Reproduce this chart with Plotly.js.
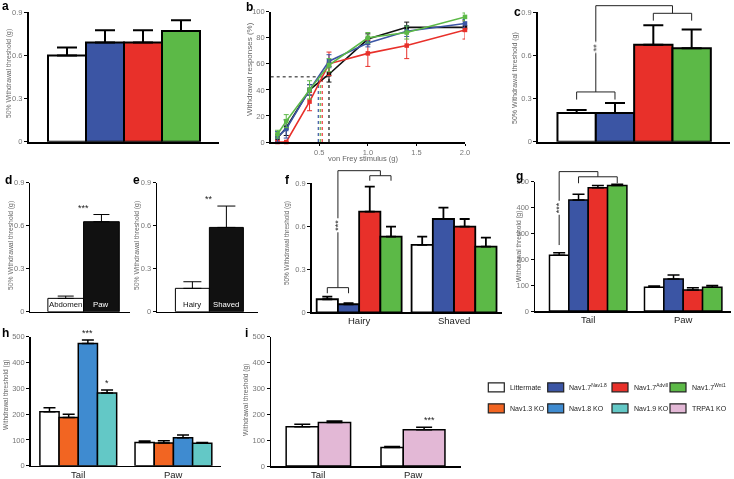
<!DOCTYPE html>
<html><head><meta charset="utf-8">
<script src="https://cdn.plot.ly/plotly-3.0.1.min.js"></script>
<style>html,body{margin:0;padding:0;background:#fff}#chart{width:734px;height:479px}.main-svg{will-change:transform}</style>
</head><body><div id="chart"></div>
<script>
// ---------------- data ----------------
// a
const aVal = [0.60, 0.69, 0.69, 0.77];
const aErr = [0.055, 0.085, 0.085, 0.075];
// b
const bStim = [0.07, 0.16, 0.4, 0.6, 1.0, 1.4, 2.0];
const bLitter = [3, 11, 40, 52, 79, 88, 88];
const bLitterErr = [3, 6, 4, 6, 4, 4, 3];
const bNav18 = [4, 10, 40, 62, 76, 85, 91];
const bNav18Err = [4, 7, 4, 5, 3, 4, 3];
const bAdvill = [0, 0, 31, 60, 68, 74, 86];
const bAdvillErr = [0, 0, 7, 9, 10, 10, 7];
const bWnt1 = [6, 16, 40, 59, 80, 84, 96];
const bWnt1Err = [3, 5, 7, 5, 4, 5, 3];
const bThreshold = [0.60, 0.49, 0.53, 0.51]; // littermate, Nav1.8, Advill, Wnt1
// c
const cVal = [0.20, 0.20, 0.675, 0.65];
const cErr = [0.02, 0.07, 0.135, 0.13];
// d
const dSites = ['Abdomen', 'Paw'];
const dVal = [0.093, 0.628];
const dErr = [0.016, 0.05];
// e
const eSites = ['Hairy', 'Shaved'];
const eVal = [0.163, 0.588];
const eErr = [0.046, 0.149];
// f
const fSites = ['Hairy', 'Shaved'];
const fLitter = [0.091, 0.47], fLitterErr = [0.018, 0.058];
const fNav18 = [0.056, 0.651], fNav18Err = [0.008, 0.079];
const fAdvill = [0.702, 0.598], fAdvillErr = [0.175, 0.053];
const fWnt1 = [0.528, 0.458], fWnt1Err = [0.07, 0.063];
// g
const gSites = ['Tail', 'Paw'];
const gLitter = [216, 91.5], gLitterErr = [9, 5.5];
const gNav18 = [429, 124], gNav18Err = [22, 15];
const gAdvill = [477, 81], gAdvillErr = [8, 9];
const gWnt1 = [485, 91.5], gWnt1Err = [5, 7.5];
// h
const hSites = ['Tail', 'Paw'];
const hLitter = [209, 90], hLitterErr = [16, 6];
const hNav13 = [187, 88], hNav13Err = [12, 9];
const hNav18 = [474, 108], hNav18Err = [13, 11];
const hNav19 = [282, 87], hNav19Err = [11, 3];
// i
const iSites = ['Tail', 'Paw'];
const iLitter = [152, 72], iLitterErr = [9, 3];
const iTrpa1 = [168, 140], iTrpa1Err = [6, 10];

// legend
const legendNames = ['Littermate', 'Nav1.7<sup>Nav1.8</sup>', 'Nav1.7<sup>Advill</sup>', 'Nav1.7<sup>Wnt1</sup>',
                     'Nav1.3 KO', 'Nav1.8 KO', 'Nav1.9 KO', 'TRPA1 KO'];

// ---------------- styles ----------------
const C = {lit:'#ffffff', n18:'#3b55a4', adv:'#e8302a', wnt:'#5cb947', n13:'#f26522', k18:'#3f8bd0', n19:'#63c8c6', trp:'#e3b8d6', blk:'#111111'};
const legendColors = [C.lit, C.n18, C.adv, C.wnt, C.n13, C.k18, C.n19, C.trp];
const F = 'Liberation Sans, Arial, Helvetica, sans-serif';
const W = 734, H = 479;
function dom(x0, x1, yTop, yBot) { return {x:[x0/W, x1/W], y:[(H-yBot)/H, (H-yTop)/H]}; }
const P = {
  a:{id:'',  dom:dom(29, 219, 12.3, 141.7),   xr:[0,5],        yr:[0,0.9]},
  b:{id:'2', dom:dom(270.7, 465, 11.7, 142),  xr:[0,2],        yr:[0,100]},
  c:{id:'3', dom:dom(538.3, 730, 12.3, 141.7),xr:[0,5],        yr:[0,0.9]},
  d:{id:'4', dom:dom(30, 130, 182.7, 311.7),  xr:[0,2.8],      yr:[0,0.9]},
  e:{id:'5', dom:dom(156.7, 258, 182.7, 311.7),xr:[-0.05,2.93],yr:[0,0.9]},
  f:{id:'6', dom:dom(311.7, 501.5, 183.3, 312.3),xr:[-0.5,1.5], yr:[0,0.9]},
  g:{id:'7', dom:dom(535, 730.7, 181.7, 311), xr:[-0.56,1.5],  yr:[0,500]},
  h:{id:'8', dom:dom(30.7, 221, 336.7, 465.7),xr:[-0.5,1.5],   yr:[0,500]},
  i:{id:'9', dom:dom(271, 460.5, 336.7, 466), xr:[-0.5,1.5],   yr:[0,500]}
};
const groupFrac = {f:0.895, g:0.815, h:0.807, i:0.68};

const traces = [];
const shapes = [];
const annotations = [];
const layout = {width:W, height:H, margin:{l:0,r:0,t:0,b:0}, paper_bgcolor:'#fff', plot_bgcolor:'rgba(0,0,0,0)',
  showlegend:false, barmode:'overlay', font:{family:F, color:'#222'}, shapes, annotations};

function axes(p, xo, yo) {
  const base = {showgrid:false, zeroline:false, showline:true, linecolor:'#000', fixedrange:true, ticks:'outside',
    tickcolor:'#000', ticklen:3, tickwidth:1, tickfont:{size:7.5, color:'#777', family:F}, type:'linear'};
  layout['xaxis'+p.id] = Object.assign({}, base, {domain:p.dom.x, range:p.xr, anchor:'y'+p.id}, xo);
  layout['yaxis'+p.id] = Object.assign({}, base, {domain:p.dom.y, range:p.yr, anchor:'x'+p.id}, yo);
}
function errUp(arr, vals, lw, cw) {
  return {type:'data', symmetric:false, array:arr, arrayminus:vals.map(()=>0), color:'#000', thickness:lw, width:cw};
}
function simpleBars(p, vals, errs, colors, lw, cw) {
  traces.push({type:'bar', x:vals.map((_,i)=>i+1), y:vals, width:1, marker:{color:colors, line:{color:'#000', width:lw}},
    error_y:errUp(errs, vals, lw, cw), xaxis:'x'+p.id, yaxis:'y'+p.id, hoverinfo:'skip'});
}
// geom (optional): per-series {width:[..], offset:[..]} overrides of the standard group layout
function groupedBars(p, key, cats, series, errs, colors, lw, cw, geom) {
  const G = groupFrac[key], w = G/series.length;
  series.forEach((vals, k) => {
    const g = geom && geom[k];
    traces.push({type:'bar', x:cats.map((_,i)=>i), y:vals, width:g ? g.width : w, offset:g ? g.offset : -G/2 + k*w,
      marker:{color:colors[k], line:{color:'#000', width:lw}}, error_y:errUp(errs[k], vals, lw, cw),
      xaxis:'x'+p.id, yaxis:'y'+p.id, hoverinfo:'skip'});
  });
}
function barCenter(key, nSeries, g, k) { const G = groupFrac[key], w = G/nSeries; return g - G/2 + (k+0.5)*w; }
function fx(p, x) { return (x - p.xr[0])/(p.xr[1]-p.xr[0]); }
function fy(p, y) { return (y - p.yr[0])/(p.yr[1]-p.yr[0]); }
function seg(p, x0, y0, x1, y1, col, lw) {
  shapes.push({type:'line', xref:'x'+p.id+' domain', yref:'y'+p.id+' domain', x0:fx(p,x0), y0:fy(p,y0), x1:fx(p,x1), y1:fy(p,y1),
    line:{color:col||'#222', width:lw||1}});
}
function bracket(p, xl, xr, ytop, ybot) { seg(p, xl, ytop, xr, ytop); seg(p, xl, ybot, xl, ytop); seg(p, xr, ybot, xr, ytop); }
function txt(p, x, y, text, o) {
  annotations.push(Object.assign({xref:'x'+p.id+' domain', yref:'y'+p.id+' domain', x:fx(p,x), y:fy(p,y), text,
    showarrow:false, xanchor:'center', yanchor:'middle', font:{size:9, family:F, color:'#111'}}, o||{}));
}
function paperTxt(x, y, text, o) {
  annotations.push(Object.assign({xref:'paper', yref:'paper', x:x/W, y:(H-y)/H, text, showarrow:false,
    xanchor:'center', yanchor:'middle', font:{size:7, family:F, color:'#666'}}, o||{}));
}
function ytitle(x, y, text, size) { paperTxt(x, y, text, {textangle:-90, font:{size:size||6.8, family:F, color:'#666'}}); }
function letter(x, y, t) { paperTxt(x, y, '<b>'+t+'</b>', {font:{size:12, family:F, color:'#000'}}); }
function catLabels(p, cats) {
  cats.forEach((c, i) => txt(p, i, 0, c, {yanchor:'top', yshift:-1, font:{size:9.5, family:F, color:'#222'}}));
}

// ---------- a ----------
axes(P.a, {showticklabels:false, ticks:'', linewidth:2}, {dtick:0.3, linewidth:2});
simpleBars(P.a, aVal, aErr, [C.lit, C.n18, C.adv, C.wnt], 2, 10);
ytitle(9, 74, '50% Withdrawal threshold (g)', 6.8);
letter(6, 6, 'a');

// ---------- b ----------
axes(P.b, {tickvals:[0.5,1,1.5,2], tickformat:'.1f', linewidth:1.5, ticklen:2}, {dtick:20, linewidth:1.5});
const thrCols = [C.blk, C.n18, C.adv, C.wnt];
traces.push({type:'scatter', mode:'lines', x:[0, Math.max(...bThreshold)], y:[50,50], line:{color:'#111', width:1, dash:'dot'},
  xaxis:'x2', yaxis:'y2', hoverinfo:'skip'});
bThreshold.forEach((t,k) => traces.push({type:'scatter', mode:'lines', x:[t,t], y:[0,50], line:{color:thrCols[k], width:1.2, dash:'dot'},
  xaxis:'x2', yaxis:'y2', hoverinfo:'skip'}));
[[bLitter,bLitterErr,C.blk],[bAdvill,bAdvillErr,C.adv],[bNav18,bNav18Err,C.n18],[bWnt1,bWnt1Err,C.wnt]].forEach(([v,e,c]) => {
  traces.push({type:'scatter', mode:'lines+markers', x:bStim, y:v, line:{color:c, width:1.6},
    marker:{symbol:'square', size:4.5, color:c}, error_y:{type:'data', array:e, color:c, thickness:1, width:2.5},
    xaxis:'x2', yaxis:'y2', hoverinfo:'skip', cliponaxis:false});
});
ytitle(250, 69, 'Withdrawal responses (%)', 8);
paperTxt(363, 158.5, 'von Frey stimulus (g)', {font:{size:7.5, family:F, color:'#666'}});
letter(250, 7, 'b');

// ---------- c ----------
axes(P.c, {showticklabels:false, ticks:'', linewidth:2}, {dtick:0.3, linewidth:2});
simpleBars(P.c, cVal, cErr, [C.lit, C.n18, C.adv, C.wnt], 2, 10);
bracket(P.c, 1, 2, 0.346, 0.293);
seg(P.c, 1.5, 0.346, 1.5, 0.946);
seg(P.c, 1.5, 0.946, 3.5, 0.946);
bracket(P.c, 3, 4, 0.893, 0.842);
seg(P.c, 3.5, 0.893, 3.5, 0.946);
txt(P.c, 1.5, 0.655, '**', {textangle:-90, bgcolor:'#fff', font:{size:9, family:F, color:'#222'}});
ytitle(515, 78, '50% Withdrawal threshold (g)', 7);
letter(517, 12, 'c');

// ---------- d ----------
axes(P.d, {showticklabels:false, ticks:'', linewidth:1}, {dtick:0.3, linewidth:1});
simpleBars(P.d, dVal, dErr, [C.lit, C.blk], 1, 8);
txt(P.d, 1, 0, dSites[0], {yanchor:'bottom', yshift:1, font:{size:7.8, family:F, color:'#111'}});
txt(P.d, 2, 0, dSites[1], {yanchor:'bottom', yshift:1, font:{size:7.8, family:F, color:'#fff'}});
txt(P.d, 1.5, dVal[1]+dErr[1], '***', {yanchor:'bottom', font:{size:9, family:F, color:'#222'}});
ytitle(11, 246, '50% Withdrawal threshold (g)', 6.8);
letter(8, 180, 'd');

// ---------- e ----------
axes(P.e, {showticklabels:false, ticks:'', linewidth:1}, {dtick:0.3, linewidth:1});
simpleBars(P.e, eVal, eErr, [C.lit, C.blk], 1, 9);
txt(P.e, 1, 0, eSites[0], {yanchor:'bottom', yshift:1, font:{size:7.8, family:F, color:'#111'}});
txt(P.e, 2, 0, eSites[1], {yanchor:'bottom', yshift:1, font:{size:7.8, family:F, color:'#fff'}});
txt(P.e, 1.5, eVal[1]+eErr[1], '**', {yanchor:'bottom', font:{size:9, family:F, color:'#222'}});
ytitle(137, 246, '50% Withdrawal threshold (g)', 6.8);
letter(136, 180, 'e');

// ---------- f ----------
const catAxis = (cats) => ({tickvals:cats.map((_,i)=>i), showticklabels:false, ticks:'', linewidth:1.5});
axes(P.f, catAxis(fSites), {dtick:0.3, linewidth:1.5});
groupedBars(P.f, 'f', fSites, [fLitter, fNav18, fAdvill, fWnt1], [fLitterErr, fNav18Err, fAdvillErr, fWnt1Err],
  [C.lit, C.n18, C.adv, C.wnt], 1.8, 5);
catLabels(P.f, fSites);
{
  const c0 = barCenter('f',4,0,0), c1 = barCenter('f',4,0,1), c2 = barCenter('f',4,0,2), c3 = barCenter('f',4,0,3);
  const m1 = (c0+c1)/2, m2 = (c2+c3)/2;
  bracket(P.f, c0, c1, 0.172, 0.133);
  seg(P.f, m1, 0.172, m1, 0.988);
  seg(P.f, m1, 0.988, m2, 0.988);
  bracket(P.f, c2, c3, 0.953, 0.918);
  seg(P.f, m2, 0.953, m2, 0.988);
  txt(P.f, m1, 0.61, '***', {textangle:-90, bgcolor:'#fff', font:{size:9, family:F, color:'#222'}});
}
ytitle(287, 243, '50% Withdrawal threshold (g)', 6.4);
letter(287, 180, 'f');

// ---------- g ----------
axes(P.g, catAxis(gSites), {dtick:100, linewidth:1.5});
groupedBars(P.g, 'g', gSites, [gLitter, gNav18, gAdvill, gWnt1], [gLitterErr, gNav18Err, gAdvillErr, gWnt1Err],
  [C.lit, C.n18, C.adv, C.wnt], 1.5, 6);
catLabels(P.g, gSites);
{
  const c0 = barCenter('g',4,0,0), c1 = barCenter('g',4,0,1), c2 = barCenter('g',4,0,2), c3 = barCenter('g',4,0,3);
  seg(P.g, c0, 255, c0, 539);
  seg(P.g, c0, 539, c2, 539);
  bracket(P.g, c1, c3, 519, 494);
  seg(P.g, c2, 519, c2, 539);
  txt(P.g, c0, 398, '***', {textangle:-90, bgcolor:'#fff', font:{size:9, family:F, color:'#222'}});
}
ytitle(519, 247, 'Withdrawal threshold (g)', 6.6);
letter(519, 176, 'g');

// ---------- h ----------
axes(P.h, catAxis(hSites), {dtick:100, linewidth:1.5});
groupedBars(P.h, 'h', hSites, [hLitter, hNav13, hNav18, hNav19], [hLitterErr, hNav13Err, hNav18Err, hNav19Err],
  [C.lit, C.n13, C.k18, C.n19], 1.5, 6);
catLabels(P.h, hSites);
txt(P.h, barCenter('h',4,0,2), hNav18[0]+hNav18Err[0], '***', {yanchor:'bottom', font:{size:9, family:F, color:'#222'}});
txt(P.h, barCenter('h',4,0,3), hNav19[0]+hNav19Err[0], '*', {yanchor:'bottom', font:{size:9, family:F, color:'#222'}});
ytitle(6, 395, 'Withdrawal threshold (g)', 6.5);
letter(6, 333, 'h');

// ---------- i ----------
axes(P.i, catAxis(iSites), {dtick:100, linewidth:1.5});
// in the original the Paw pair is drawn with unequal widths (white narrower, pink wider)
const iGeom = [{width:[0.34, 0.235], offset:[-0.34, -0.339]}, {width:[0.34, 0.44], offset:[0, -0.104]}];
groupedBars(P.i, 'i', iSites, [iLitter, iTrpa1], [iLitterErr, iTrpa1Err], [C.lit, C.trp], 1.5, 8, iGeom);
catLabels(P.i, iSites);
txt(P.i, barCenter('i',2,1,1), iTrpa1[1]+iTrpa1Err[1], '***', {yanchor:'bottom', font:{size:9, family:F, color:'#222'}});
ytitle(246, 400, 'Withdrawal threshold (g)', 6.7);
letter(247, 333, 'i');

// ---------- legend ----------
const legCols = [488.3, 547.7, 612, 670], legRows = [387.3, 408.3];
legendNames.forEach((name, k) => {
  const x = legCols[k % 4], y = legRows[Math.floor(k / 4)];
  shapes.push({type:'rect', xref:'paper', yref:'paper', x0:x/W, x1:(x+16)/W, y0:(H-(y+4.5))/H, y1:(H-(y-4.5))/H,
    fillcolor:legendColors[k], line:{color:'#222', width:1.2}});
  paperTxt(x+19.5, y, name, {xanchor:'left', font:{size:7, family:F, color:'#222'}});
});

Plotly.newPlot('chart', traces, layout, {staticPlot:true, displayModeBar:false});
</script>
</body></html>
